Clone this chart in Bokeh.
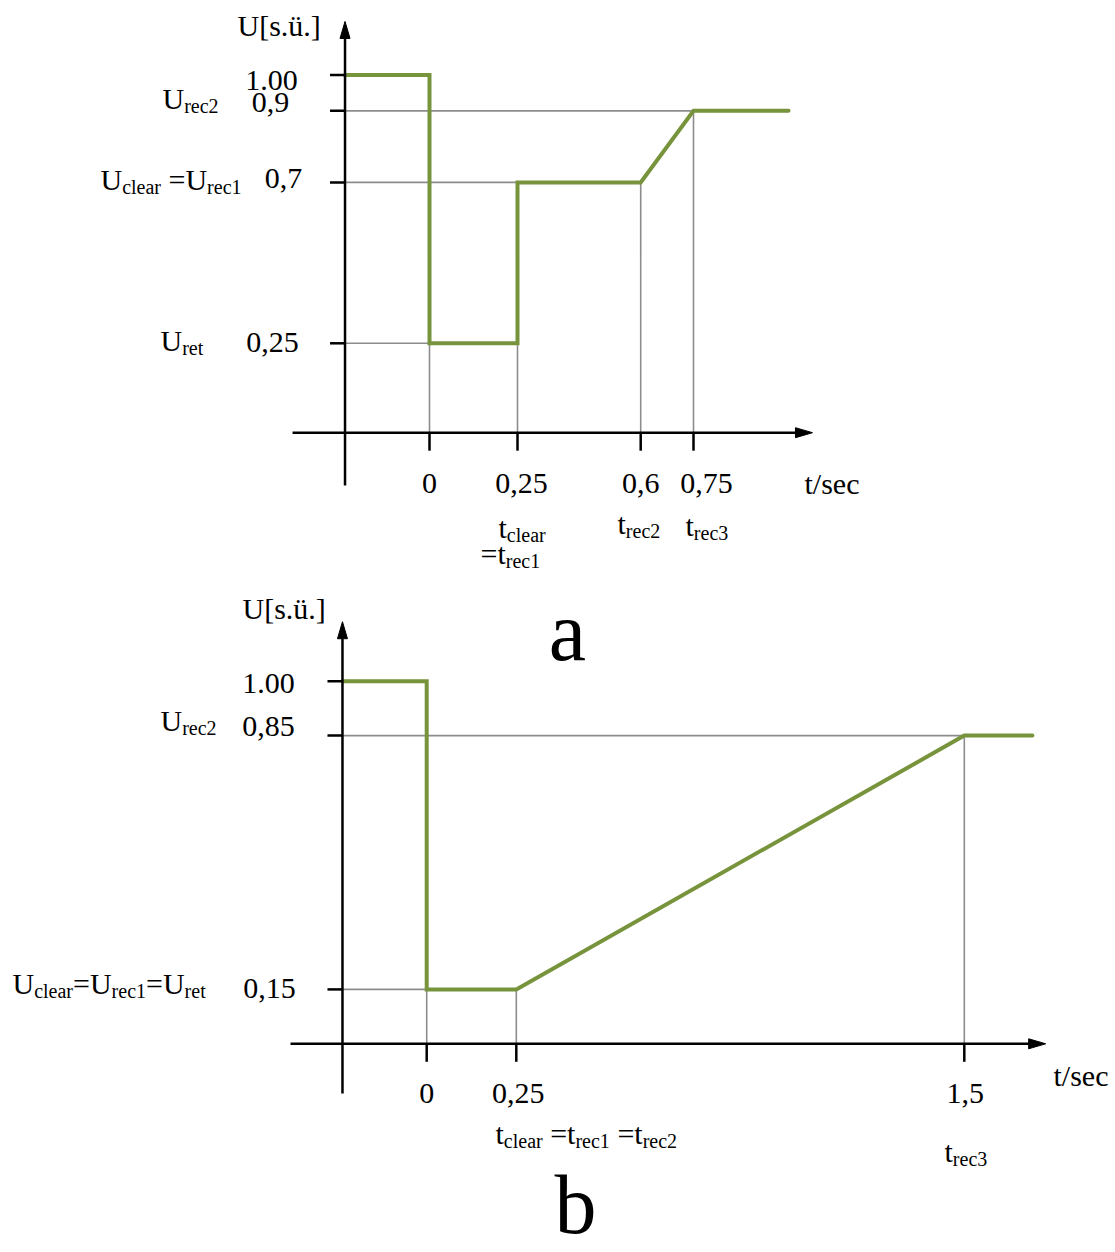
from bokeh.plotting import figure
from bokeh.layouts import column
from bokeh.models import Range1d
from bokeh.core.properties import value
from bokeh.embed import file_html
from bokeh.resources import INLINE

# ---------------- data: panel a ----------------
a_t = [-0.24, 0.0, 0.0, 0.25, 0.25, 0.6, 0.75, 1.02]
a_u = [1.00, 1.00, 0.25, 0.25, 0.70, 0.70, 0.90, 0.90]
a_levels = [1.00, 0.9, 0.7, 0.25]
a_level_labels = ["1.00", "0,9", "0,7", "0,25"]
a_times = [0.0, 0.25, 0.6, 0.75]
a_time_labels = ["0", "0,25", "0,6", "0,75"]
a_hguide_u = [0.9, 0.7, 0.25]
a_hguide_t = [0.75, 0.25, 0.0]
a_vguide_t = [0.0, 0.25, 0.6, 0.75]
a_vguide_u = [0.25, 0.25, 0.7, 0.9]

# ---------------- data: panel b ----------------
b_t = [-0.235, 0.0, 0.0, 0.25, 1.5, 1.69]
b_u = [1.00, 1.00, 0.15, 0.15, 0.85, 0.85]
b_levels = [1.00, 0.85, 0.15]
b_level_labels = ["1.00", "0,85", "0,15"]
b_times = [0.0, 0.25, 1.5]
b_time_labels = ["0", "0,25", "1,5"]
b_hguide_u = [0.85, 0.15]
b_hguide_t = [1.5, 0.0]
b_vguide_t = [0.0, 0.25, 1.5]
b_vguide_u = [0.15, 0.15, 0.85]

# ---------------- style ----------------
FONT = "Liberation Serif"
GREEN = "#77933C"
GRAY = "#8C8C8C"
MAIN = 30
SUB = 20
PAGE_W = 1115
ORIGIN = 0  # page pixel where the figures start
SPLIT = 578  # page pixel where panel b's figure begins
BASE_FIX = 0.33  # rendered baseline sits this many em below the requested y

# Times advance widths (em fractions)
TW = {"U": .722, "r": .333, "e": .444, "c": .444, "l": .278, "a": .444,
      "t": .278, "=": .564, " ": .25, "s": .389, ".": .25, "ü": .5, ",": .25,
      "[": .333, "]": .333, "/": .278}


def tw(s):
    return sum(TW.get(ch, 0.5) for ch in s)


class Panel:
    def __init__(self, top, height, x0, sx, y0, sy):
        self.top, self.x0, self.sx, self.y0, self.sy = top, x0, sx, y0, sy
        self.p = figure(width=PAGE_W, height=height,
                        x_range=Range1d(self.X(ORIGIN), self.X(ORIGIN + PAGE_W)),
                        y_range=Range1d(self.Y(top + height), self.Y(top)),
                        output_backend="svg", toolbar_location=None,
                        min_border=0, x_axis_location=None, y_axis_location=None)
        self.p.grid.visible = False
        self.p.outline_line_color = None
        self.p.background_fill_color = "white"

    def X(self, px):
        return (px - self.x0) / self.sx

    def Y(self, py):
        return (self.y0 - py) / self.sy

    def text(self, txt, px, base, size=MAIN, align="left"):
        self.p.text(x=[self.X(px)], y=[self.Y(base - BASE_FIX * size)], text=[txt],
                    text_font=value(FONT), text_font_size=f"{size}px",
                    text_align=align, text_baseline="alphabetic", text_color="black")

    def rich(self, segs, px, base, drop=4):
        x = px
        for s, sub in segs:
            fs = SUB if sub else MAIN
            stripped = s.lstrip(" ")
            x += tw(s[: len(s) - len(stripped)]) * fs
            self.text(stripped, x, base + (drop if sub else 0), size=fs)
            x += tw(stripped) * fs


def draw(P, t, u, levels, times, hu, ht, vt, vu, ax_t, y_lo, y_hi, x_lo, x_hi):
    p = P.p
    # guides
    p.segment(x0=[ax_t] * len(hu), y0=hu, x1=ht, y1=hu, line_color=GRAY, line_width=1.6)
    p.segment(x0=vt, y0=[0.0] * len(vt), x1=vt, y1=vu, line_color=GRAY, line_width=1.6)
    # curve
    p.line(t, u, line_color=GREEN, line_width=4, line_join="miter", line_cap="round")
    # axes
    head_l, head_w = 17, 5
    p.segment(x0=[ax_t], y0=[y_lo], x1=[ax_t], y1=[y_hi - head_l / P.sy * 0.8],
              line_color="black", line_width=2.5)
    p.segment(x0=[x_lo], y0=[0.0], x1=[x_hi - head_l / P.sx * 0.8], y1=[0.0],
              line_color="black", line_width=2.5)
    p.patch([ax_t, ax_t - head_w / P.sx, ax_t + head_w / P.sx],
            [y_hi, y_hi - head_l / P.sy, y_hi - head_l / P.sy],
            fill_color="black", line_color="black", line_width=1)
    p.patch([x_hi, x_hi - head_l / P.sx, x_hi - head_l / P.sx],
            [0.0, head_w / P.sy, -head_w / P.sy],
            fill_color="black", line_color="black", line_width=1)
    # ticks
    p.segment(x0=[ax_t - 15 / P.sx] * len(levels), y0=levels, x1=[ax_t] * len(levels),
              y1=levels, line_color="black", line_width=2.5)
    p.segment(x0=times, y0=[0.0] * len(times), x1=times, y1=[-18 / P.sy] * len(times),
              line_color="black", line_width=2.5)


# ---------------- panel a ----------------
A = Panel(top=ORIGIN, height=SPLIT - ORIGIN, x0=429, sx=352, y0=432.2, sy=357.6)
draw(A, a_t, a_u, a_levels, a_times, a_hguide_u, a_hguide_t, a_vguide_t, a_vguide_u,
     ax_t=-0.24, y_lo=-0.148, y_hi=1.150, x_lo=-0.389, x_hi=1.088)

a_ylab_cx = [271, 270, 283, 272]
a_ylab_base = [90, 112, 188, 352]
for lab, cx, b in zip(a_level_labels, a_ylab_cx, a_ylab_base):
    A.text(lab, cx, b, align="center")
a_xlab_dx = [0, 4, 0, 13]
for lab, tv, dx in zip(a_time_labels, a_times, a_xlab_dx):
    A.text(lab, A.x0 + tv * A.sx + dx, 493, align="center")

A.text("U[s.ü.]", 237, 35)
A.text("t/sec", 804, 493)
A.rich([("U", 0), ("rec2", 1)], 162, 108)
A.rich([("U", 0), ("clear", 1), (" =U", 0), ("rec1", 1)], 100, 189)
A.rich([("U", 0), ("ret", 1)], 160, 350)
A.rich([("t", 0), ("clear", 1)], 498, 537)
A.rich([("=t", 0), ("rec1", 1)], 480, 563)
A.rich([("t", 0), ("rec2", 1)], 617, 533)
A.rich([("t", 0), ("rec3", 1)], 685, 535)

# ---------------- panel b ----------------
B = Panel(top=SPLIT, height=1252 - SPLIT, x0=426.2, sx=358.4, y0=1043.3, sy=362.6)
draw(B, b_t, b_u, b_levels, b_times, b_hguide_u, b_hguide_t, b_vguide_t, b_vguide_u,
     ax_t=-0.235, y_lo=-0.137, y_hi=1.164, x_lo=-0.38, x_hi=1.727)

b_ylab_cx = [268, 268, 269]
b_ylab_base = [693, 736, 998]
for lab, cx, b in zip(b_level_labels, b_ylab_cx, b_ylab_base):
    B.text(lab, cx, b, align="center")
b_xlab_dx = [0, 2, 1]
for lab, tv, dx in zip(b_time_labels, b_times, b_xlab_dx):
    B.text(lab, B.x0 + tv * B.sx + dx, 1103, align="center")

B.text("U[s.ü.]", 242, 618)
B.text("t/sec", 1053, 1085)
B.rich([("U", 0), ("rec2", 1)], 160, 730)
B.rich([("U", 0), ("clear", 1), ("=U", 0), ("rec1", 1), ("=U", 0), ("ret", 1)], 12, 993)
B.rich([("t", 0), ("clear", 1), (" =t", 0), ("rec1", 1), (" =t", 0), ("rec2", 1)], 495, 1143)
B.rich([("t", 0), ("rec3", 1)], 944, 1161)

# panel captions
B.text("a", 567, 659, size=84, align="center")
B.text("b", 575, 1232, size=84, align="center")

layout = column(A.p, B.p, spacing=0)
open("out.html", "w").write(file_html(layout, INLINE))
